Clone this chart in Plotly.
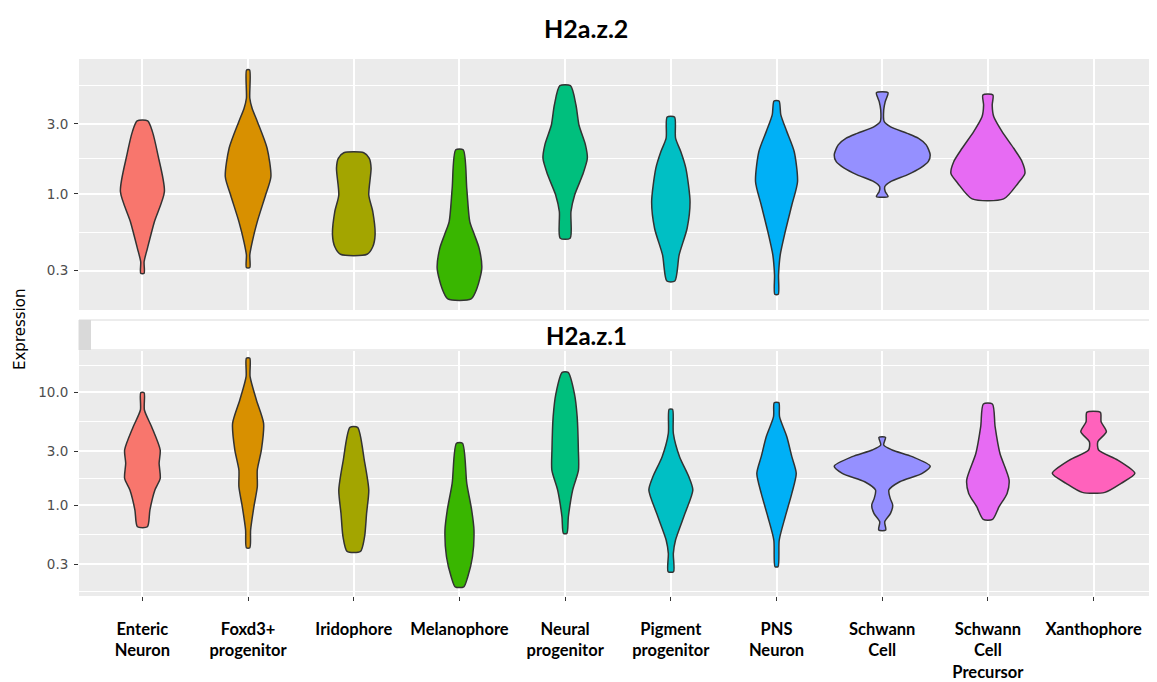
import plotly.graph_objects as go

# ---------------- data ----------------
cell_types = ["Enteric Neuron", "Foxd3+ progenitor", "Iridophore", "Melanophore",
              "Neural progenitor", "Pigment progenitor", "PNS Neuron", "Schwann Cell",
              "Schwann Cell Precursor", "Xanthophore"]
tick_labels = ["Enteric<br>Neuron", "Foxd3+<br>progenitor", "Iridophore", "Melanophore",
               "Neural<br>progenitor", "Pigment<br>progenitor", "PNS<br>Neuron",
               "Schwann<br>Cell", "Schwann<br>Cell<br>Precursor", "Xanthophore"]
colors = ["#F8766D", "#D89000", "#A3A500", "#39B600", "#00BF7D",
          "#00BFC4", "#00B0F6", "#9590FF", "#E76BF3", "#FF62BC"]

# H2a.z.2 panel: expression levels (bottom -> top) and relative violin density
z2_enteric_expr = [0.288, 0.345, 0.426, 0.647, 1.04, 1.845, 2.66, 3.15]
z2_enteric_dens = [1.7, 1.7, 5, 12, 22, 15.5, 10, 5.3]
z2_foxd3_expr = [0.315, 0.384, 0.473, 0.648, 0.984, 1.31, 2.05, 3.11, 3.84, 4.49, 7.0]
z2_foxd3_dens = [1.7, 1.7, 4.2, 9.2, 17.5, 22.8, 19, 9.3, 4, 1.7, 1.5]
z2_irido_expr = [0.388, 0.437, 0.526, 0.758, 0.984, 1.50, 1.75, 1.91]
z2_irido_dens = [13.3, 19, 21.3, 19, 15, 17.3, 15.5, 10]
z2_melano_expr = [0.1924, 0.2275, 0.311, 0.426, 0.526, 0.648, 1.09, 2.0]
z2_melano_dens = [11.7, 17.5, 22.3, 19.7, 15, 10.3, 7.3, 3.7]
z2_neural_expr = [0.499, 0.758, 0.984, 1.35, 1.75, 2.16, 2.95, 4.04, 5.47]
z2_neural_dens = [5, 5.8, 9.5, 17.5, 22.2, 20.3, 13.8, 10.8, 5.3]
z2_pigment_expr = [0.255, 0.384, 0.584, 0.886, 1.50, 1.94, 2.40, 3.35]
z2_pigment_dens = [4, 8.3, 16.3, 19.2, 15, 10, 4.7, 3.7]
z2_pns_expr = [0.207, 0.2805, 0.384, 0.553, 0.841, 1.21, 1.94, 2.66, 3.46, 4.3]
z2_pns_dens = [1.7, 2, 3.7, 8.7, 15.3, 21, 17.7, 10.3, 4.3, 2.5]
z2_schwann_expr = [0.959, 1.04, 1.12, 1.21, 1.35, 1.50, 1.66, 1.845, 2.16, 2.40,
                   2.59, 2.88, 3.11, 3.74, 4.26, 4.906]
z2_schwann_dens = [5.8, 3, 2.5, 8, 25, 38, 46, 48, 44, 36, 25, 8, 2, 1.5, 3, 5.8]
z2_scp_expr = [0.925, 1.18, 1.38, 1.66, 2.05, 2.66, 3.37, 4.04, 4.73]
z2_scp_dens = [15.8, 30, 37, 34.2, 25.8, 14.2, 5.8, 4.3, 5]

# H2a.z.1 panel
z1_enteric_expr = [0.643, 0.903, 1.357, 1.72, 2.34, 3.07, 4.93, 6.93, 9.86]
z1_enteric_dens = [5, 7.5, 12.5, 17.8, 16.7, 17.8, 9.2, 2, 1.7]
z1_foxd3_expr = [0.419, 0.601, 0.966, 1.45, 2.04, 3.07, 5.28, 8.5, 13.7, 19.9]
z1_foxd3_dens = [1.7, 2.5, 5.8, 9.2, 9.2, 13.3, 15.5, 8.3, 2, 1.7]
z1_irido_expr = [0.389, 0.5245, 0.844, 1.357, 2.50, 4.87]
z1_irido_dens = [6.7, 10.8, 12.8, 15, 10.5, 3.8]
z1_melano_expr = [0.189, 0.232, 0.3487, 0.601, 0.903, 1.556, 3.52]
z1_melano_dens = [4.3, 8.3, 13, 14.5, 12.2, 7.3, 3]
z1_neural_expr = [0.5615, 0.788, 1.357, 2.04, 3.07, 6.05, 9.73, 14.9]
z1_neural_dens = [1.7, 3.2, 7.5, 13.3, 13.2, 12, 9.2, 3]
z1_pigment_expr = [0.257, 0.3735, 0.49, 0.844, 1.357, 1.78, 2.68, 4.31, 7.03]
z1_pigment_dens = [2.7, 2.5, 4.7, 14.2, 22, 18, 8.7, 2.5, 1.7]
z1_pns_expr = [0.2845, 0.49, 0.788, 1.268, 1.907, 2.68, 4.02, 6.05, 8.05]
z1_pns_dens = [1.5, 2.7, 8.7, 15.3, 19.7, 15.3, 10.3, 3, 2.3]
z1_schwann_expr = [0.601, 0.712, 0.844, 1.0, 1.146, 1.357, 1.607, 1.907, 2.21, 2.68,
                   3.07, 3.40, 3.97]
z1_schwann_dens = [3.5, 2.5, 8.3, 10.5, 8, 6.7, 17.5, 40, 48, 30, 10, 1.5, 3.3]
z1_scp_expr = [0.7465, 0.966, 1.268, 1.664, 2.87, 4.93, 7.83]
z1_scp_dens = [4.7, 11.2, 19.2, 21.2, 12, 7.2, 4.5]
z1_xantho_expr = [1.294, 1.556, 1.907, 2.50, 3.07, 3.63, 4.46, 5.46, 6.61]
z1_xantho_dens = [11.3, 27.5, 41.3, 24.2, 5, 4.2, 12.8, 7.5, 6.8]

panel_z2 = [(z2_enteric_expr, z2_enteric_dens), (z2_foxd3_expr, z2_foxd3_dens),
            (z2_irido_expr, z2_irido_dens), (z2_melano_expr, z2_melano_dens),
            (z2_neural_expr, z2_neural_dens), (z2_pigment_expr, z2_pigment_dens),
            (z2_pns_expr, z2_pns_dens), (z2_schwann_expr, z2_schwann_dens),
            (z2_scp_expr, z2_scp_dens), None]
panel_z1 = [(z1_enteric_expr, z1_enteric_dens), (z1_foxd3_expr, z1_foxd3_dens),
            (z1_irido_expr, z1_irido_dens), (z1_melano_expr, z1_melano_dens),
            (z1_neural_expr, z1_neural_dens), (z1_pigment_expr, z1_pigment_dens),
            (z1_pns_expr, z1_pns_dens), (z1_schwann_expr, z1_schwann_dens),
            (z1_scp_expr, z1_scp_dens), (z1_xantho_expr, z1_xantho_dens)]

z2_ticks = [0.3, 1.0, 3.0]
z1_ticks = [0.3, 1.0, 3.0, 10.0]

# ---------------- figure ----------------
OFF = 8                      # page body margin of the html page
W, H = 1157 - OFF, 682 - OFF
DENS_SCALE = 1 / 105.7       # density units -> category units


def px(x):
    return (x - OFF) / W


def py(y):
    return 1 - (y - OFF) / H


fig = go.Figure()


def add_violins(panel, xa, ya):
    for i, item in enumerate(panel):
        if item is None:
            continue
        expr, dens = item
        xs = [i - d * DENS_SCALE for d in dens] + [i + d * DENS_SCALE for d in dens[::-1]]
        ys = list(expr) + list(expr[::-1])
        xs.append(xs[0])
        ys.append(ys[0])
        fig.add_trace(go.Scatter(
            x=xs, y=ys, xaxis=xa, yaxis=ya, mode="lines", fill="toself",
            fillcolor=colors[i],
            line=dict(color="#333333", width=1.5, shape="spline", smoothing=0.7),
            hoverinfo="skip", showlegend=False))


add_violins(panel_z2, "x", "y")
add_violins(panel_z1, "x2", "y2")

x_left = px(79)
dom_top = [py(310), py(59)]
dom_bot = [py(596), py(351)]

tickfont = dict(family="DejaVu Sans", size=13.5, color="#4D4D4D")
common_x = dict(range=[-0.6, 9.6], domain=[x_left, 1.0], tickvals=list(range(10)),
                showgrid=True, gridcolor="white", gridwidth=1.5, zeroline=False,
                showline=False)
fig.update_layout(
    width=W, height=H, margin=dict(l=0, r=0, t=0, b=0, autoexpand=False),
    paper_bgcolor="white", plot_bgcolor="#EBEBEB",
    xaxis=dict(**common_x, anchor="y", showticklabels=False, ticks=""),
    xaxis2=dict(**common_x, anchor="y2", ticktext=[f"<b>{t}</b>" for t in tick_labels],
                ticks="outside", ticklen=4, tickcolor="#333333", tickwidth=1,
                ticklabelstandoff=14,
                tickfont=dict(family="Lato, Open Sans", size=16.5, color="black")),
    yaxis=dict(type="log", range=[-0.791, 0.920], domain=dom_top, anchor="x",
               tickvals=z2_ticks, ticktext=[f"{v:.1f}" for v in z2_ticks],
               ticks="outside", ticklen=4, tickcolor="#333333", tickwidth=1,
               ticklabelstandoff=3,
               tickfont=tickfont, showgrid=True, gridcolor="white", gridwidth=1.5,
               zeroline=False,
               minor=dict(tickvals=[0.5477, 1.732, 5.477], showgrid=True,
                          gridcolor="white", gridwidth=0.7, ticks="")),
    yaxis2=dict(type="log", range=[-0.805, 1.363], domain=dom_bot, anchor="x2",
                tickvals=z1_ticks, ticktext=[f"{v:.1f}" for v in z1_ticks],
                ticks="outside", ticklen=4, tickcolor="#333333", tickwidth=1,
                ticklabelstandoff=3,
                tickfont=tickfont, showgrid=True, gridcolor="white", gridwidth=1.5,
                zeroline=False,
                minor=dict(tickvals=[0.1732, 0.5477, 1.732, 5.477, 17.32], showgrid=True,
                           gridcolor="white", gridwidth=0.7, ticks="")),
)

# strip of the lower panel
fig.add_shape(type="rect", xref="paper", yref="paper", x0=x_left, x1=1.0,
              y0=py(350), y1=py(320), fillcolor="white",
              line=dict(color="#DADADA", width=1), layer="below")
fig.add_shape(type="rect", xref="paper", yref="paper", x0=x_left, x1=px(91),
              y0=py(350), y1=py(320), fillcolor="#D9D9D9", line=dict(width=0),
              layer="below")

fig.add_annotation(text="<b>H2a.z.2</b>", xref="paper", yref="paper",
                   x=px(586), y=py(28), xanchor="center", yanchor="middle",
                   showarrow=False,
                   font=dict(family="Lato, Open Sans", size=25, color="black"))
fig.add_annotation(text="<b>H2a.z.1</b>", xref="paper", yref="paper",
                   x=px(586), y=py(335), xanchor="center", yanchor="middle",
                   showarrow=False,
                   font=dict(family="Lato, Open Sans", size=24, color="black"))
fig.add_annotation(text="Expression", xref="paper", yref="paper",
                   x=px(20), y=py(330), xanchor="center", yanchor="middle",
                   showarrow=False, textangle=-90,
                   font=dict(family="DejaVu Sans", size=15, color="black"))

fig.write_html("out.html")
